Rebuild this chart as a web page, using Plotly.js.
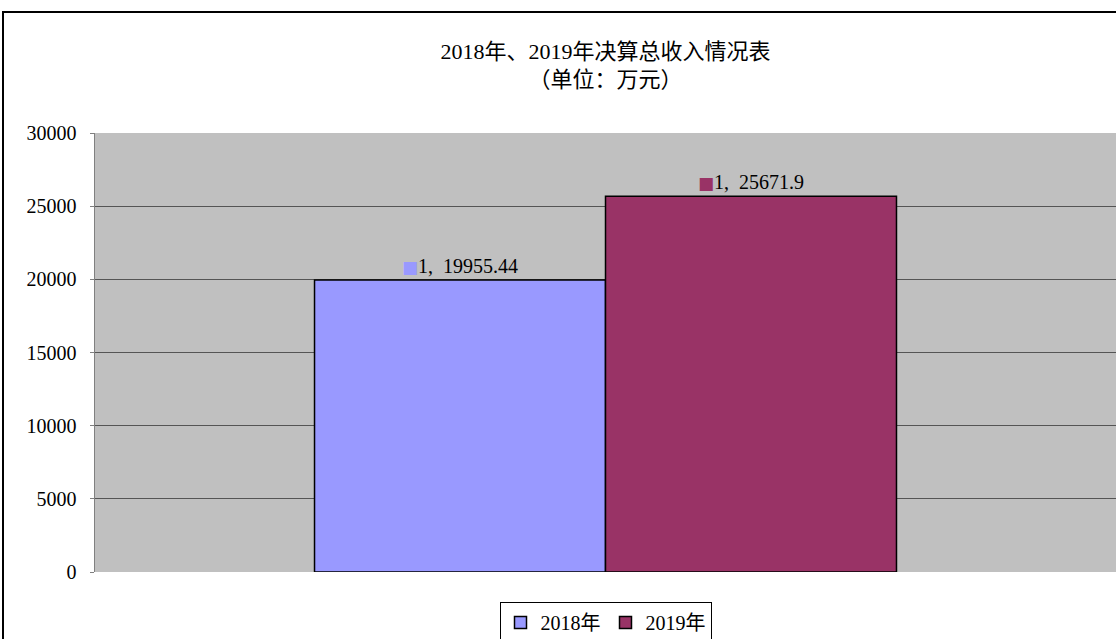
<!DOCTYPE html>
<html>
<head>
<meta charset="utf-8">
<script src="https://cdn.plot.ly/plotly-3.0.1.min.js"></script>
<style>
html,body{margin:0;padding:0;background:#fff;overflow:hidden;}
#wrap{position:relative;width:1116px;height:639px;}
#chart{position:absolute;left:0;top:0;width:1116px;height:639px;}
#frame{position:absolute;left:2px;top:11px;width:1200px;height:700px;border-left:2px solid #000;border-top:2px solid #000;pointer-events:none;}
</style>
</head>
<body>
<div id="wrap"><div id="chart"></div><div id="frame"></div></div>
<script>
const categories = ['1'];
const seriesNames = ['2018年', '2019年'];
const values2018 = [19955.44];
const values2019 = [25671.9];
const seriesColors = ['#9999FF', '#993366'];
const yTicks = [0, 5000, 10000, 15000, 20000, 25000, 30000];

const FONT = '"Liberation Serif", "Noto Sans CJK SC", serif';
const seriesValues = [values2018, values2019];

const traces = seriesNames.map((name, i) => ({
  type: 'bar',
  name: name,
  x: categories,
  y: seriesValues[i],
  marker: {color: seriesColors[i], line: {color: '#000', width: 1.5}},
  text: seriesValues[i].map((v, j) => '<span style="color:' + seriesColors[i] + ';font-family:DejaVu Sans;font-size:17px">■</span>' + categories[j] + ',  ' + v),
  textposition: 'outside',
  cliponaxis: false,
  textfont: {family: FONT, size: 20, color: '#000'},
  hoverinfo: 'none'
}));

const layout = {
  width: 1116,
  height: 639,
  margin: {l: 95, r: 0, t: 133, b: 67},
  paper_bgcolor: 'rgba(0,0,0,0)',
  plot_bgcolor: '#C0C0C0',
  font: {family: FONT, size: 20, color: '#000'},
  title: {
    text: '2018年、2019年决算总收入情况表<br>（单位：万元）',
    font: {family: FONT, size: 22, color: '#000'},
    x: 0.5, xanchor: 'center', xref: 'paper',
    y: 0.908, yanchor: 'middle'
  },
  barmode: 'group',
  bargap: 0.43,
  bargroupgap: 0,
  showlegend: true,
  legend: {
    orientation: 'h',
    x: 0.5, xanchor: 'center',
    yref: 'container',
    y: 0.058, yanchor: 'top',
    bordercolor: '#000', borderwidth: 1,
    bgcolor: '#fff',
    font: {family: FONT, size: 20, color: '#000'},
    itemwidth: 30,
    traceorder: 'normal'
  },
  xaxis: {
    type: 'category',
    showticklabels: false,
    showgrid: false,
    zeroline: false,
    showline: false,
    fixedrange: true,
    automargin: false
  },
  yaxis: {
    range: [0, 30000],
    tickvals: yTicks,
    ticktext: yTicks.map(String),
    showgrid: true,
    gridcolor: '#555555',
    gridwidth: 1,
    zeroline: false,
    showline: true,
    linecolor: '#808080',
    linewidth: 1.5,
    mirror: true,
    ticks: 'outside',
    ticklen: 4,
    tickcolor: '#808080',
    ticklabelstandoff: 9,
    tickfont: {family: FONT, size: 20, color: '#000'},
    fixedrange: true,
    automargin: false
  }
};

Plotly.newPlot('chart', traces, layout, {displayModeBar: false, staticPlot: true});
</script>
</body>
</html>
